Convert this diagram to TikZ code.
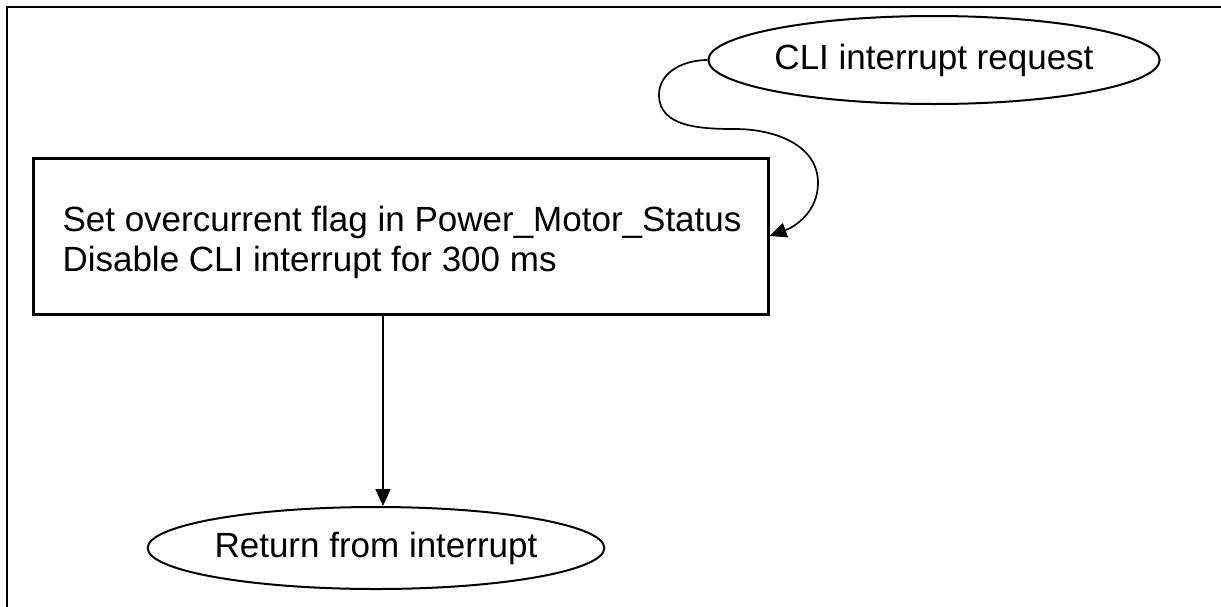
\documentclass[tikz,border=0pt]{standalone}
\usepackage{fontspec}
\setmainfont{Liberation Sans}
\usetikzlibrary{shapes.geometric,arrows.meta}
\begin{document}
\begin{tikzpicture}[x=1pt,y=-1pt,
  lbl/.style={font=\fontsize{35}{40}\selectfont},
  term/.style={draw,ellipse,line width=2pt,inner sep=0pt,lbl},
  procbox/.style={draw,rectangle,line width=3pt,inner sep=0pt},
  conn/.style={line width=2pt,-{Triangle[length=17pt,width=15pt]}}]
\useasboundingbox (0,0) rectangle (1221,606);
\draw[line width=2.6pt] (1225,7) -- (7,7) -- (7,610);
\node[term,minimum width=439pt,minimum height=88pt] (req) at (934,60) {CLI interrupt request};
\node[procbox,minimum width=735pt,minimum height=156pt] (box) at (400.5,236) {};
\node[lbl,align=left,inner sep=0pt] (boxtext) at (402,242)
  {Set overcurrent flag in Power\_Motor\_Status\\Disable CLI interrupt for 300 ms};
\node[term,minimum width=404pt,minimum height=82pt] (ret) at (376,548) {Return from interrupt};
\coordinate (c1) at (659,95);
\coordinate (c2) at (735,129);
\coordinate (c3) at (818,183);
\draw[conn,line width=1.7pt] (req.west) to[out=180,in=90] (c1) to[out=-90,in=180] (c2)
  to[out=0,in=90] (c3) to[out=-90,in=20] (box.east);
\coordinate (a0) at ([xshift=-17.5]box.south);
\draw[conn] (a0) -- (a0 |- ret.north);
\end{tikzpicture}
\end{document}
